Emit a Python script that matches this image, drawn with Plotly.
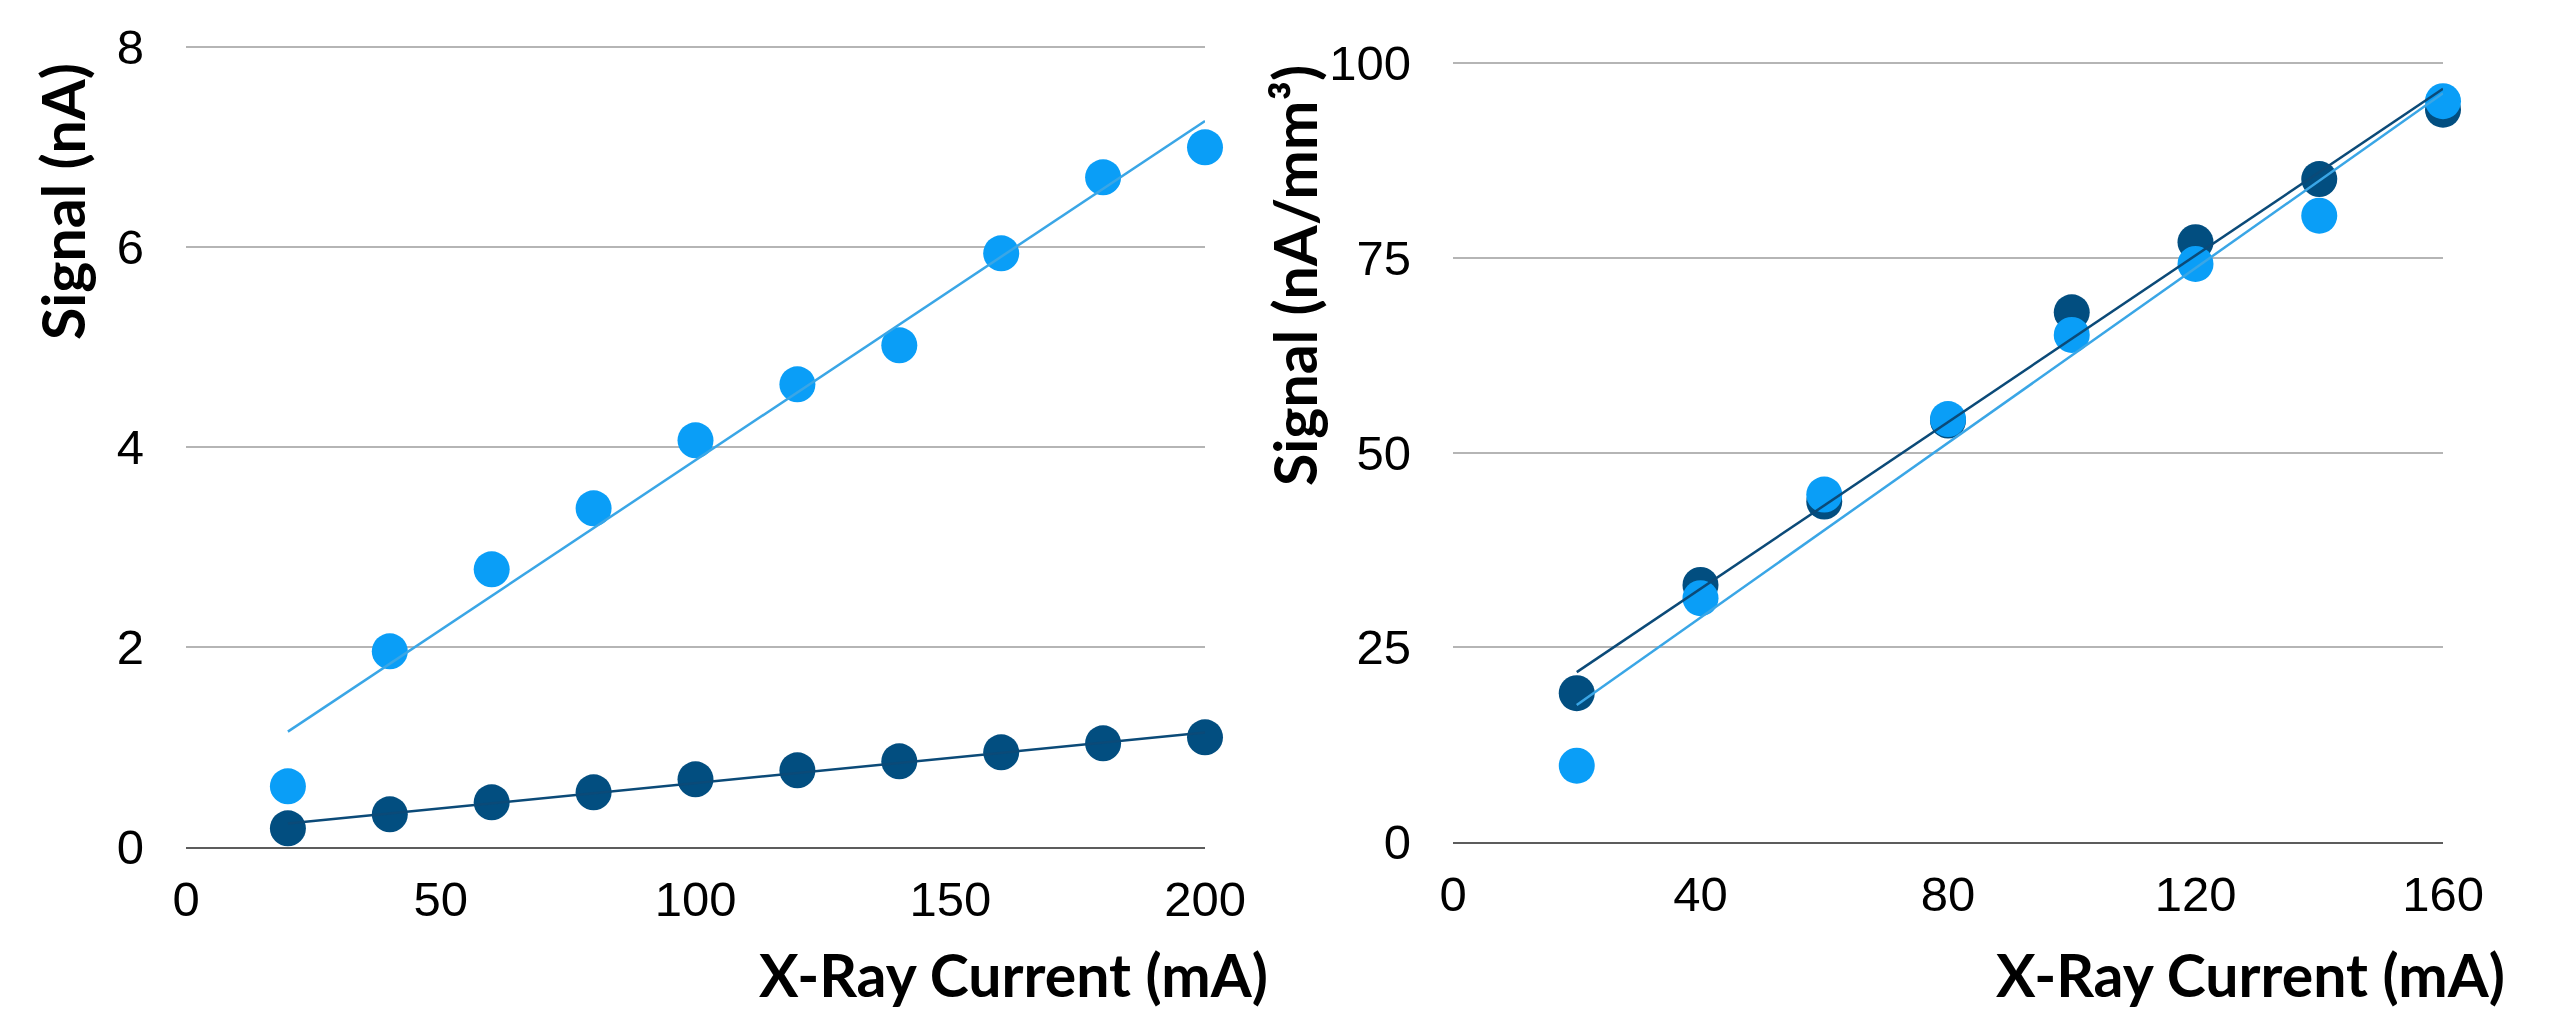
import numpy as np
import plotly.graph_objects as go

# ---- data ----
current_left = [20, 40, 60, 80, 100, 120, 140, 160, 180, 200]
signal_left_light = [0.61, 1.96, 2.78, 3.39, 4.07, 4.63, 5.02, 5.94, 6.70, 7.00]
signal_left_dark = [0.19, 0.33, 0.45, 0.55, 0.68, 0.77, 0.86, 0.95, 1.04, 1.10]

current_right = [20, 40, 60, 80, 100, 120, 140, 160]
signal_right_dark = [19.1, 33.0, 43.7, 54.1, 68.0, 77.0, 85.1, 94.0]
signal_right_light = [9.8, 31.3, 44.6, 54.3, 65.1, 74.2, 80.4, 95.1]

left_yticks = [0, 2, 4, 6, 8]
left_xticks = [0, 50, 100, 150, 200]
right_yticks = [0, 25, 50, 75, 100]
right_xticks = [0, 40, 80, 120, 160]

LIGHT = "#0A9EF7"
DARK = "#024E80"
LIGHT_LINE = "#3AA6E6"
DARK_LINE = "#0B4A78"

W, H = 2555, 1011


def fit(x, y):
    k, b = np.polyfit(np.asarray(x, float), np.asarray(y, float), 1)
    xs = [min(x), max(x)]
    return xs, [k * v + b for v in xs]


fig = go.Figure()


def add_series(x, y_dark, y_light, xa, ya):
    fig.add_trace(go.Scatter(x=x, y=y_dark, mode="markers", cliponaxis=False,
                             marker=dict(color=DARK, size=36), xaxis=xa, yaxis=ya))
    fig.add_trace(go.Scatter(x=x, y=y_light, mode="markers", cliponaxis=False,
                             marker=dict(color=LIGHT, size=36), xaxis=xa, yaxis=ya))
    fx, fy = fit(x, y_light)
    fig.add_trace(go.Scatter(x=fx, y=fy, mode="lines", cliponaxis=False,
                             line=dict(color=LIGHT_LINE, width=2.5), xaxis=xa, yaxis=ya))
    fx, fy = fit(x, y_dark)
    fig.add_trace(go.Scatter(x=fx, y=fy, mode="lines", cliponaxis=False,
                             line=dict(color=DARK_LINE, width=2.5), xaxis=xa, yaxis=ya))


add_series(current_left, signal_left_dark, signal_left_light, "x", "y")
add_series(current_right, signal_right_dark, signal_right_light, "x2", "y2")

tickfont = dict(family="Liberation Sans, Arial, sans-serif", size=49, color="black")
titlefont = dict(family="Lato, Open Sans, sans-serif", size=59, color="black", weight=700)

xcommon = dict(showgrid=False, zeroline=False, showline=True, linecolor="#5c5c5c",
               linewidth=2, ticks="", tickfont=tickfont, ticklabelstandoff=8,
               fixedrange=True, automargin=False)
ycommon = dict(showgrid=True, gridcolor="#b5b5b5", gridwidth=1.5, zeroline=False,
               showline=False, ticks="", tickfont=tickfont, ticklabelstandoff=41,
               fixedrange=True, automargin=False)

# pixel geometry of the two plot areas
L_x0, L_x1, L_y0, L_y8 = 178, 1197, 839.3, 39.3
R_x0, R_x1, R_y0, R_y100 = 1445, 2435, 834, 55
L_top = 8.05
R_top = 100.5
L_ppu = (L_y0 - L_y8) / 8
R_ppu = (R_y0 - R_y100) / 100

fig.update_layout(
    width=W, height=H, autosize=False,
    margin=dict(l=0, r=0, t=0, b=0, autoexpand=False),
    paper_bgcolor="white", plot_bgcolor="white",
    showlegend=False,
    xaxis=dict(domain=[L_x0 / W, L_x1 / W], range=[0, 200], tickvals=left_xticks,
               anchor="y", **xcommon),
    yaxis=dict(domain=[1 - L_y0 / H, 1 - (L_y0 - L_top * L_ppu) / H], range=[0, L_top],
               tickvals=left_yticks, anchor="x", **ycommon),
    xaxis2=dict(domain=[R_x0 / W, R_x1 / W], range=[0, 160], tickvals=right_xticks,
                anchor="y2", **xcommon),
    yaxis2=dict(domain=[1 - R_y0 / H, 1 - (R_y0 - R_top * R_ppu) / H], range=[0, R_top],
                tickvals=right_yticks, anchor="x2", **ycommon),
    annotations=[
        dict(text="Signal (nA)", x=54 / W, y=1 - 194 / H, xref="paper", yref="paper",
             textangle=-90, showarrow=False, font=titlefont,
             xanchor="center", yanchor="middle"),
        dict(text="Signal (nA/mm³)", x=1286 / W, y=1 - 268 / H,
             xref="paper", yref="paper", textangle=-90, showarrow=False, font=titlefont,
             xanchor="center", yanchor="middle"),
        dict(text="X-Ray Current (mA)", x=1262 / W, y=7 / H, xref="paper",
             yref="paper", showarrow=False, font=titlefont,
             xanchor="right", yanchor="bottom"),
        dict(text="X-Ray Current (mA)", x=2499 / W, y=7 / H, xref="paper",
             yref="paper", showarrow=False, font=titlefont,
             xanchor="right", yanchor="bottom"),
    ],
    shapes=[
        dict(type="rect", xref="paper", yref="paper", x0=1392 / W, x1=1418 / W,
             y0=0, y1=7 / H, fillcolor="#33A6DC", line=dict(width=0)),
    ],
)

fig.write_html("out.html")
